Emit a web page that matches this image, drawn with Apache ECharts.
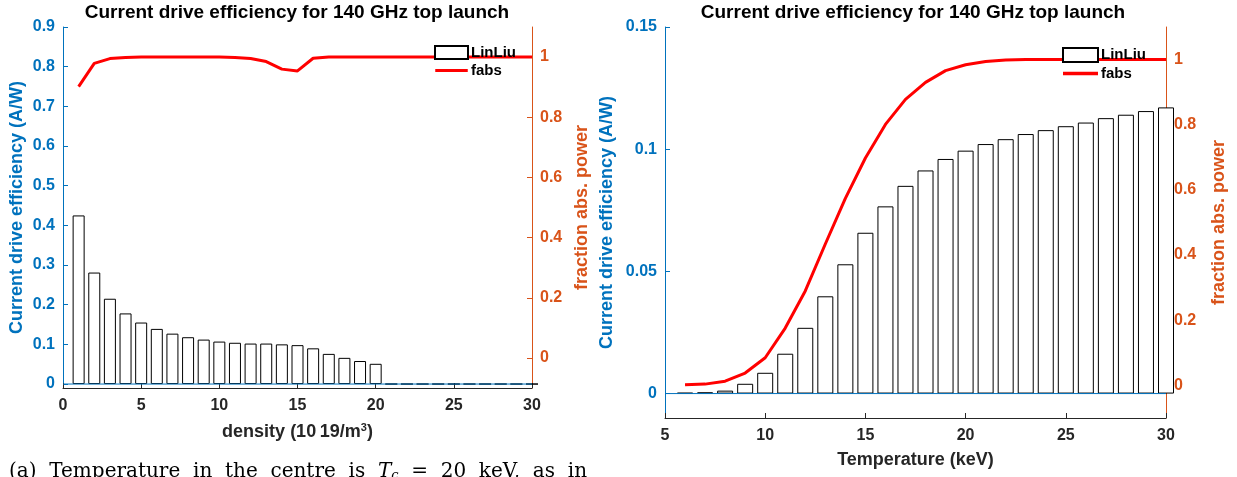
<!DOCTYPE html>
<html>
<head>
<meta charset="utf-8">
<script src="https://cdn.jsdelivr.net/npm/echarts@6/dist/echarts.min.js"></script>
<style>
  html, body { margin: 0; padding: 0; background: #fff; }
  #chart { width: 1237px; height: 477px; }
</style>
</head>
<body>
<div id="chart"></div>
<script>
// left panel: density scan
const densityX = [1, 2, 3, 4, 5, 6, 7, 8, 9, 10, 11, 12, 13, 14, 15, 16, 17, 18, 19, 20, 21, 22, 23, 24, 25, 26, 27, 28, 29, 30];
const densityEff = [0.425, 0.281, 0.215, 0.178, 0.155, 0.139, 0.127, 0.118, 0.112, 0.107, 0.104, 0.102, 0.102, 0.100, 0.098, 0.090, 0.076, 0.066, 0.058, 0.051, 0, 0, 0, 0, 0, 0, 0, 0, 0, 0];
const densityFabs = [0.902, 0.979, 0.995, 0.999, 1, 1, 1, 1, 1, 1, 0.999, 0.995, 0.985, 0.960, 0.954, 0.996, 1, 1, 1, 1, 1, 1, 1, 1, 1, 1, 1, 1, 1, 1];

// right panel: temperature scan
const tempX = [6, 7, 8, 9, 10, 11, 12, 13, 14, 15, 16, 17, 18, 19, 20, 21, 22, 23, 24, 25, 26, 27, 28, 29, 30];
const tempEff = [0.0003, 0.0005, 0.0012, 0.0040, 0.0085, 0.0163, 0.0269, 0.0398, 0.0529, 0.0658, 0.0766, 0.0850, 0.0913, 0.0960, 0.0994, 0.1021, 0.1041, 0.1062, 0.1078, 0.1094, 0.1109, 0.1127, 0.1141, 0.1156, 0.1171];
const tempFabs = [0.002, 0.004, 0.013, 0.038, 0.085, 0.176, 0.290, 0.434, 0.574, 0.698, 0.801, 0.878, 0.930, 0.966, 0.984, 0.994, 0.999, 1, 1, 1, 1, 1, 1, 1, 1];

// tick labels
const effTicksLeft = [0, 0.1, 0.2, 0.3, 0.4, 0.5, 0.6, 0.7, 0.8, 0.9];
const effTicksRight = [0, 0.05, 0.1, 0.15];
const fabsTicks = [0, 0.2, 0.4, 0.6, 0.8, 1];

const titleText = "Current drive efficiency for 140 GHz top launch";
const BLUE = "#0072BD";
const ORANGE = "#D95319";
const FONT = "Liberation Sans";

const pairs = (xs, ys) => xs.map((x, i) => [x, ys[i]]);

function xAxisCfg(grid, min, max, name, gap) {
    return {
        type: "value", gridIndex: grid, min: min, max: max, interval: 5,
        name: name, nameLocation: "middle", nameGap: gap,
        nameTextStyle: { color: "#262626", fontFamily: FONT, fontWeight: "bold", fontSize: 18, rich: {
            b: { color: "#262626", fontFamily: FONT, fontWeight: "bold", fontSize: 18 },
            sup: { color: "#262626", fontFamily: FONT, fontWeight: "bold", fontSize: 11, verticalAlign: "top", padding: [0, 0, 10, 0] }
        } },
        axisLine: { show: true, onZero: false, lineStyle: { color: "#262626", width: 1 } },
        axisTick: { show: true, inside: true, length: 5, lineStyle: { color: "#262626" } },
        axisLabel: { color: "#262626", fontFamily: FONT, fontWeight: "bold", fontSize: 16, margin: 10 },
        splitLine: { show: false }
    };
}

function yAxisCfg(grid, pos, min, max, ticks, color, name, gap) {
    return {
        type: "value", gridIndex: grid, position: pos, min: min, max: max,
        name: name, nameLocation: "middle", nameGap: gap, nameRotate: 90,
        nameTextStyle: { color: color, fontFamily: FONT, fontWeight: "bold", fontSize: 18 },
        axisLine: { show: true, onZero: false, lineStyle: { color: color, width: 1 } },
        axisTick: { show: true, inside: true, length: 5, customValues: ticks, lineStyle: { color: color } },
        axisLabel: { color: color, fontFamily: FONT, fontWeight: "bold", fontSize: 16, margin: 8, customValues: ticks },
        splitLine: { show: false }
    };
}

function barSeries(xi, yi, xs, ys, w) {
    return {
        name: "LinLiu", type: "bar", xAxisIndex: xi, yAxisIndex: yi,
        data: pairs(xs, ys), barWidth: w, clip: true,
        itemStyle: { color: "#ffffff", borderColor: "#000000", borderWidth: 1 },
        emphasis: { disabled: true }
    };
}

function baseline(xi, yi, x0, x1) {
    return {
        name: "baseline", type: "line", xAxisIndex: xi, yAxisIndex: yi,
        data: [[x0, 0], [x1, 0]], symbol: "none", silent: true,
        lineStyle: { color: BLUE, width: 1 }
    };
}

function fabsSeries(xi, yi, xs, ys) {
    return {
        name: "fabs", type: "line", xAxisIndex: xi, yAxisIndex: yi,
        data: pairs(xs, ys), symbol: "none", z: 3,
        lineStyle: { color: "#FF0000", width: 3 }, itemStyle: { color: "#FF0000" }
    };
}

function legendCfg(left, top, w, h) {
    return {
        orient: "vertical", left: left, top: top, padding: 0,
        itemWidth: w, itemHeight: h, itemGap: 3,
        textStyle: { color: "#000", fontFamily: FONT, fontWeight: "bold", fontSize: 15, padding: [0, 0, 0, -2] },
        data: [
            { name: "LinLiu", icon: "rect" },
            { name: "fabs", icon: "path://M0,0M0,5.3h35v3.4h-35zM35,14" }
        ],
        selectedMode: false
    };
}

const chart = echarts.init(document.getElementById("chart"));
chart.setOption({
    animation: false,
    backgroundColor: "#fff",
    title: [
        { text: titleText, left: 297, textAlign: "center", top: 3, padding: 0,
          textStyle: { fontFamily: FONT, fontWeight: "bold", fontSize: 19, color: "#000" } },
        { text: titleText, left: 913, textAlign: "center", top: 3, padding: 0,
          textStyle: { fontFamily: FONT, fontWeight: "bold", fontSize: 19, color: "#000" } },
        { text: "(a)  Temperature  in  the  centre  is  {i|T}{s|c}  =  20  keV,  as  in", left: 9, top: 461, padding: 0,
          textStyle: { fontFamily: "DejaVu Serif", fontWeight: "normal", fontSize: 20, color: "#000",
            rich: {
                i: { fontFamily: "DejaVu Serif", fontStyle: "italic", fontSize: 20, color: "#000" },
                s: { fontFamily: "DejaVu Serif", fontStyle: "italic", fontSize: 13, color: "#000", verticalAlign: "bottom", padding: [8, 0, 0, 0] }
            } } }
    ],
    legend: [legendCfg(434, 45, 33, 13), legendCfg(1062, 47, 35, 14)],
    grid: [
        { left: 63, right: 705, top: 27, bottom: 89 },
        { left: 665, right: 71, top: 27, bottom: 59 }
    ],
    xAxis: [
        xAxisCfg(0, 0, 30, "{b|density (10\u200919/m}{sup|3}{b|)}", 34),
        xAxisCfg(1, 5, 30, "Temperature (keV)", 33)
    ],
    yAxis: [
        yAxisCfg(0, "left", -0.01, 0.9, effTicksLeft, BLUE, "Current drive efficiency (A/W)", 37),
        yAxisCfg(0, "right", -0.1, 1.1, fabsTicks, ORANGE, "fraction abs. power", 41),
        yAxisCfg(1, "left", -0.01, 0.15, effTicksRight, BLUE, "Current drive efficiency (A/W)", 49),
        yAxisCfg(1, "right", -0.1, 1.1, fabsTicks, ORANGE, "fraction abs. power", 44)
    ],
    series: [
        baseline(0, 0, 0, 30),
        barSeries(0, 0, densityX, densityEff, 12),
        fabsSeries(0, 1, densityX, densityFabs),
        baseline(1, 2, 5, 30),
        barSeries(1, 2, tempX, tempEff, 16),
        fabsSeries(1, 3, tempX, tempFabs)
    ]
});
</script>
</body>
</html>
